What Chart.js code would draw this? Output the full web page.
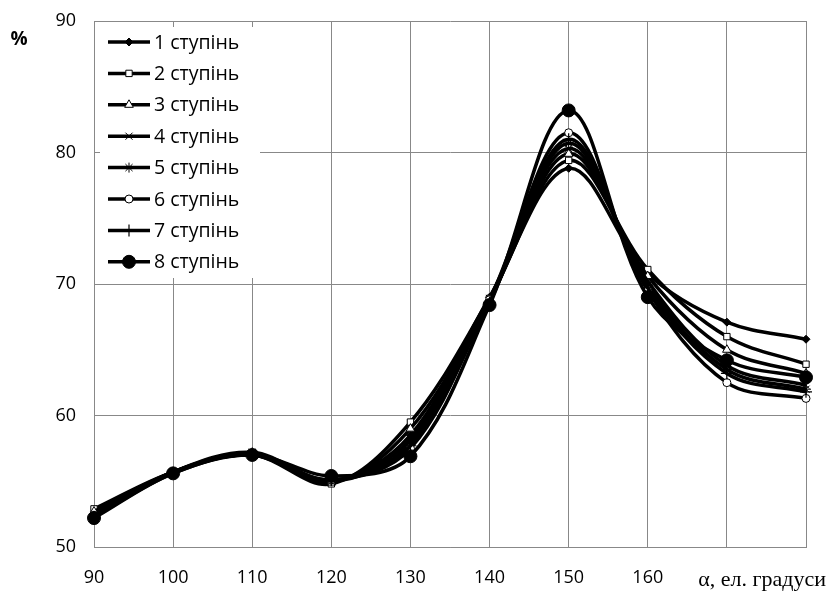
<!DOCTYPE html>
<html>
<head>
<meta charset="utf-8">
<script src="https://cdn.jsdelivr.net/npm/chart.js@4.4.0/dist/chart.umd.min.js"></script>
<style>
  html, body { margin: 0; padding: 0; background: #fff; }
  #wrap { width: 828px; height: 595px; position: relative; }
</style>
</head>
<body>
<div id="wrap"><canvas id="c" width="828" height="595"></canvas></div>
<script>
// ---- data ----
const categories = ['90', '100', '110', '120', '130', '140', '150', '160', '170', '180'];
const tickLabels = ['90', '100', '110', '120', '130', '140', '150', '160', '', ''];
const seriesNames = ['1 ступінь', '2 ступінь', '3 ступінь', '4 ступінь', '5 ступінь', '6 ступінь', '7 ступінь', '8 ступінь'];
const stage1 = [52.5, 55.7, 57.0, 55.0, 58.5, 69.0, 78.8, 70.8, 67.1, 65.8];
const stage2 = [52.9, 55.7, 57.0, 54.8, 59.5, 68.9, 79.4, 71.1, 66.0, 63.9];
const stage3 = [52.7, 55.7, 57.0, 54.9, 59.0, 68.8, 79.9, 70.6, 65.0, 63.2];
const stage4 = [52.4, 55.7, 57.1, 55.0, 58.2, 68.9, 80.3, 70.2, 63.8, 62.3];
const stage5 = [52.3, 55.7, 57.2, 55.0, 57.9, 68.7, 80.7, 69.9, 63.5, 62.0];
const stage6 = [52.4, 55.7, 57.0, 55.1, 57.5, 68.8, 81.5, 69.5, 62.5, 61.3];
const stage7 = [52.3, 55.6, 57.0, 55.1, 57.7, 68.6, 81.0, 69.7, 63.2, 61.8];
const stage8 = [52.2, 55.6, 57.0, 55.4, 56.9, 68.4, 83.2, 69.0, 64.2, 62.9];
const yMin = 50, yMax = 90, yStep = 10;
const yUnit = '%';
const xTitle = 'α, ел. градуси';

// ---- styles ----
const seriesData = [stage1, stage2, stage3, stage4, stage5, stage6, stage7, stage8];
const markers = [
  { style: 'rectRot', r: 4, fill: '#000', bw: 1 },
  { style: 'rect', r: 4.5, fill: '#fff', bw: 1 },
  { style: 'triangle', r: 5, fill: '#fff', bw: 1 },
  { style: 'crossRot', r: 5, fill: '#000', bw: 1 },
  { style: 'star', r: 5, fill: '#000', bw: 1 },
  { style: 'circle', r: 4, fill: '#fff', bw: 1 },
  { style: 'cross', r: 6, fill: '#000', bw: 1.2 },
  { style: 'circle', r: 6.5, fill: '#000', bw: 1 }
];
const GRID = '#888888';
const FONT = '"Open Sans", sans-serif';

const datasets = seriesData.map((d, i) => ({
  label: seriesNames[i],
  data: d,
  borderColor: '#000',
  borderWidth: 3.5,
  tension: 0.35,
  fill: false,
  pointStyle: markers[i].style,
  pointRadius: markers[i].r,
  pointBackgroundColor: markers[i].fill,
  pointBorderColor: '#000',
  pointBorderWidth: markers[i].bw,
  order: 7 - i
}));

const overlay = {
  id: 'overlay',
  afterDraw(chart) {
    const ctx = chart.ctx;
    ctx.save();
    // legend box
    ctx.fillStyle = '#fff';
    ctx.fillRect(100, 27, 160, 251);
    for (let i = 0; i < seriesNames.length; i++) {
      const y = 42 + i * 31.4;
      ctx.strokeStyle = '#000';
      ctx.lineWidth = 3.5;
      ctx.beginPath();
      ctx.moveTo(108, y);
      ctx.lineTo(150, y);
      ctx.stroke();
      ctx.fillStyle = markers[i].fill;
      ctx.strokeStyle = '#000';
      ctx.lineWidth = markers[i].bw;
      Chart.helpers.drawPoint(ctx, { pointStyle: markers[i].style, radius: markers[i].r, rotation: 0, borderWidth: markers[i].bw }, 129, y);
      ctx.fillStyle = '#000';
      ctx.font = '19.5px ' + FONT;
      ctx.textAlign = 'left';
      ctx.textBaseline = 'middle';
      ctx.fillText(seriesNames[i], 154, y + 1);
    }
    // y unit
    ctx.fillStyle = '#000';
    ctx.font = 'bold 19px ' + FONT;
    ctx.textAlign = 'center';
    ctx.textBaseline = 'middle';
    ctx.fillText(yUnit, 19, 40);
    // x title
    ctx.font = '22px "Liberation Serif", serif';
    ctx.textAlign = 'right';
    ctx.textBaseline = 'middle';
    ctx.fillText(xTitle, 826, 580);
    ctx.restore();
  }
};

new Chart(document.getElementById('c'), {
  type: 'line',
  data: { labels: categories, datasets },
  options: {
    responsive: false,
    animation: false,
    devicePixelRatio: 1,
    layout: { padding: { top: 21, right: 22, left: 0, bottom: 0 } },
    plugins: { legend: { display: false }, tooltip: { enabled: false } },
    scales: {
      x: {
        type: 'category',
        offset: false,
        grid: { color: GRID, lineWidth: 1, drawTicks: false },
        border: { color: GRID, width: 1 },
        ticks: {
          autoSkip: false, maxRotation: 0, padding: 20,
          color: '#000', font: { family: '"Open Sans", sans-serif', size: 18 },
          callback: (v, i) => tickLabels[i]
        },
        afterFit(s) { s.height = 48; s.paddingLeft = 0; s.paddingRight = 0; }
      },
      y: {
        min: yMin, max: yMax,
        grid: { color: GRID, lineWidth: 1, drawTicks: false },
        border: { color: GRID, width: 1 },
        ticks: {
          stepSize: yStep, padding: 18,
          color: '#000', font: { family: '"Open Sans", sans-serif', size: 18 }
        },
        afterFit(s) { s.width = 94; s.paddingTop = 0; s.paddingBottom = 0; }
      }
    }
  },
  plugins: [overlay]
});
</script>
</body>
</html>
